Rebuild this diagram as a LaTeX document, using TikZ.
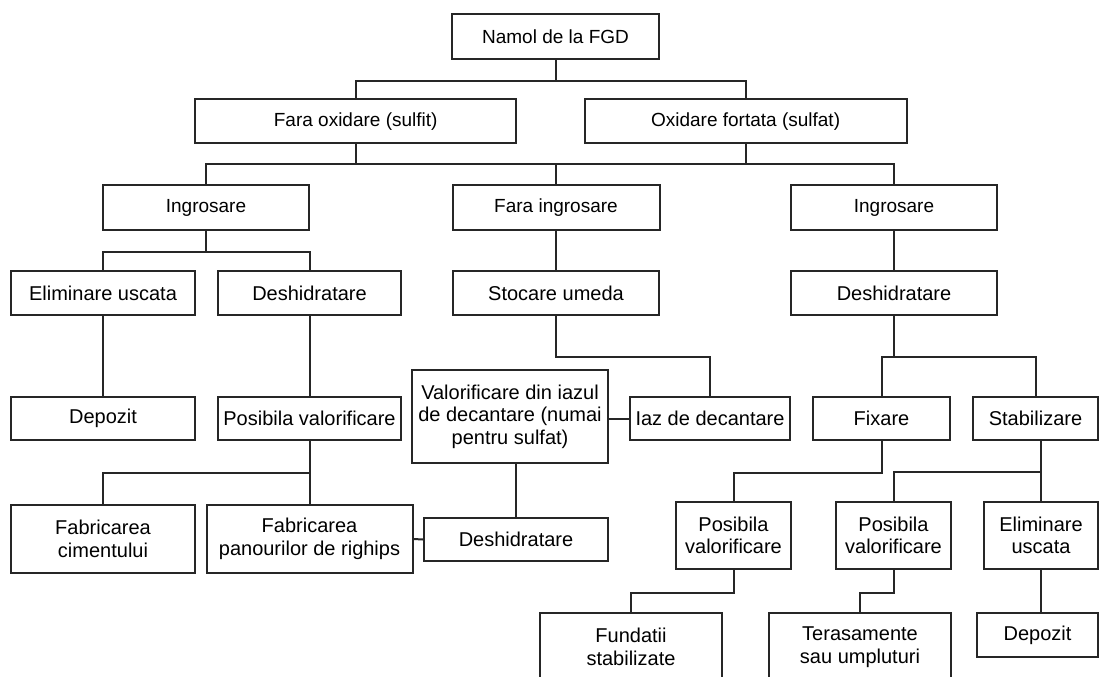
\documentclass[tikz,border=0pt]{standalone}
\usepackage{fontspec}
\setmainfont{Liberation Sans}
\usepackage{tikz}

\tikzset{
  box/.style 2 args={draw=black!85, line width=1.5pt, inner sep=0pt, align=center,
    minimum width=0.75pt*#1, minimum height=0.75pt*#2,
    font=\fontsize{15pt}{17pt}\selectfont},
  topbox/.style={font=\fontsize{14.25pt}{16pt}\selectfont},
  link/.style={draw=black!85, line width=1.5pt}
}

\begin{document}
\begin{tikzpicture}[x=0.75pt,y=0.75pt,yscale=-1,xscale=1]
    \useasboundingbox (0,0) rectangle (1102,677);
    \clip (0,0) rectangle (1102,677);
    
    \node[box={207}{45},topbox] (namol) at (555.5,36.5) {Namol de la FGD};
    \node[box={321}{44},topbox] (fox) at (355.7,121.3) {Fara oxidare (sulfit)};
    \node[box={322}{44},topbox] (oxf) at (745.6,121.3) {Oxidare fortata (sulfat)};
    \node[box={206}{45},topbox] (ingL) at (206,207.5) {Ingrosare};
    \node[box={207}{45},topbox] (fing) at (556,207.5) {Fara ingrosare};
    \node[box={206}{45},topbox] (ingR) at (894,207.5) {Ingrosare};
    
    \node[box={184}{44}] (elimL) at (103,293) {Eliminare uscata};
    \node[box={183}{44}] (deshL) at (309.5,293) {Deshidratare};
    \node[box={206}{44}] (stoc) at (556,293) {Stocare umeda};
    \node[box={206}{44}] (deshR) at (894,293) {Deshidratare};
    
    \node[box={184}{43}] (depL) at (103,418.5) {Depozit};
    \node[box={183}{43}] (posL) at (309.5,418.5) {Posibila valorificare};
    \node[box={196}{93}] (valor) at (510,416.5) {Valorificare din iazul\\de decantare (numai\\pentru sulfat)};
    \node[box={160}{43}] (iaz) at (710,418.5) {Iaz de decantare};
    \node[box={137}{43}] (fix) at (881.5,418.5) {Fixare};
    \node[box={125}{43}] (stab) at (1035.5,418.5) {Stabilizare};
    
    \node[box={184}{68}] (fabC) at (103,539) {Fabricarea\\cimentului};
    \node[box={206}{68}] (fabP) at (309.5,539) {Fabricarea\\panourilor de righips};
    \node[box={184}{43}] (deshM) at (516,539.5) {Deshidratare};
    \node[box={115}{67}] (posR1) at (733.5,535.5) {Posibila\\valorificare};
    \node[box={115}{67}] (posR2) at (893.5,535.5) {Posibila\\valorificare};
    \node[box={114}{67}] (elimR) at (1041,535.5) {Eliminare\\uscata};
    
    \node[box={182}{68}] (fund) at (631,647) {Fundatii\\stabilizate};
    \node[box={182}{68}] (terr) at (860,647) {Terasamente\\sau umpluturi};
    \node[box={121}{44}] (depR) at (1037.5,635) {Depozit};
    
    \draw[link] (namol.south) -- ++(0,21) coordinate (b1);
    \draw[link] (fox.north) |- (b1) -| (oxf.north);
    \draw[link] (fox.south) -- ++(0,20) coordinate (b2);
    \draw[link] (oxf.south) -- (oxf.south |- b2);
    \draw[link] (ingL.north) |- (b2) -| (ingR.north);
    \draw[link] (fing.north) -- (fing.north |- b2);
    \draw[link] (ingL.south) -- ++(0,21) coordinate (b3);
    \draw[link] (elimL.north) |- (b3) -| (deshL.north);
    \draw[link] (fing.south) -- (stoc.north);
    \draw[link] (ingR.south) -- (deshR.north);
    \draw[link] (elimL.south) -- (depL.north);
    \draw[link] (deshL.south) -- (posL.north);
    \draw[link] (stoc.south) -- ++(0,41) -| (iaz.north);
    \draw[link] (deshR.south) -- ++(0,41) coordinate (b4);
    \draw[link] (fix.north) |- (b4) -| (stab.north);
    \draw[link] (iaz.west) -- (iaz.west -| valor.east);
    \draw[link] (posL.south) -- ++(0,32) coordinate (b5);
    \draw[link] (fabC.north) |- (b5) -- (fabP.north);
    \draw[link] (deshM.north) -- (deshM.north |- valor.south);
    \draw[link] (fabP.east) -- (deshM.west);
    \draw[link] (fix.south) -- ++(0,32) -| (posR1.north);
    \draw[link] (elimR.north) -- (elimR.north |- stab.south);
    \draw[link] (posR2.north) |- (elimR.north |- 0,472);
    \draw[link] (posR1.south) -- ++(0,23) -| (fund.north);
    \draw[link] (posR2.south) -- ++(0,23) -| (terr.north);
    \draw[link] (elimR.south) -- (elimR.south |- depR.north);
    
\end{tikzpicture}
\end{document}
